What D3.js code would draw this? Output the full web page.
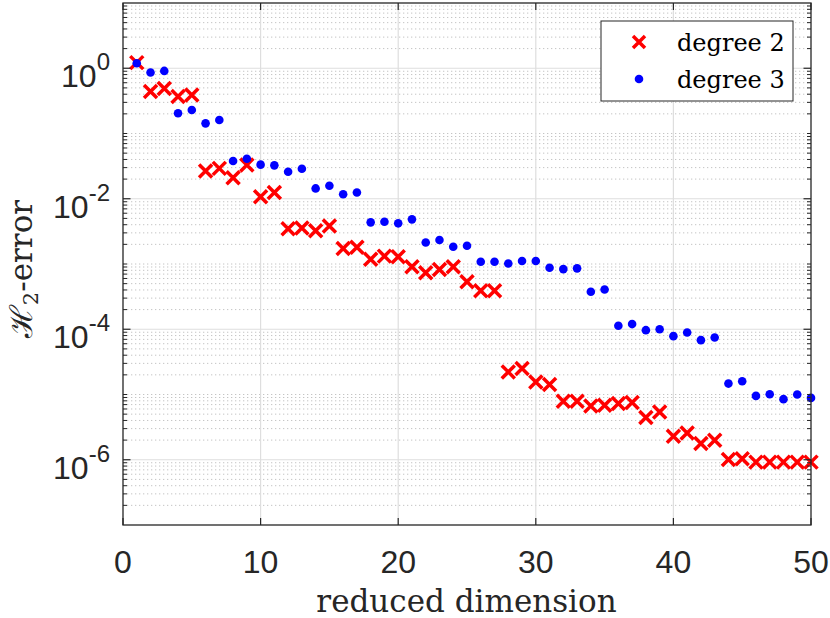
<!DOCTYPE html>
<html>
<head>
<meta charset="utf-8">
<script src="https://cdn.jsdelivr.net/npm/d3@7"></script>
<style>
  html, body { margin: 0; padding: 0; background: #ffffff; }
  svg { display: block; }
  .tick-font { font-family: "Liberation Sans", Arimo, Arial, Helvetica, sans-serif; }
  .serif-font { font-family: "DejaVu Serif", "Liberation Serif", serif; }
</style>
</head>
<body>
<div id="chart"></div>
<script>
// ---- data ----
const dims = [1,2,3,4,5,6,7,8,9,10,11,12,13,14,15,16,17,18,19,20,21,22,23,24,25,
              26,27,28,29,30,31,32,33,34,35,36,37,38,39,40,41,42,43,44,45,46,47,48,49,50];
const degree2 = [1.22, 0.44, 0.49, 0.37, 0.39, 0.0266, 0.0292, 0.021, 0.0329, 0.0107,
                 0.0125, 0.00347, 0.00355, 0.00324, 0.00381, 0.00173, 0.0018, 0.00118, 0.00132, 0.00129,
                 0.000906, 0.000733, 0.000826, 0.000906, 0.000533, 0.000388, 0.000388, 2.22e-5, 2.5e-5, 1.56e-5,
                 1.42e-5, 7.89e-6, 7.89e-6, 6.68e-6, 6.85e-6, 7.28e-6, 7.54e-6, 4.44e-6, 5.41e-6, 2.29e-6,
                 2.58e-6, 1.77e-6, 1.99e-6, 1.01e-6, 1.04e-6, 0.92e-6, 0.92e-6, 0.92e-6, 0.92e-6, 0.92e-6];
const degree3 = [1.19, 0.86, 0.91, 0.204, 0.229, 0.143, 0.161, 0.0379, 0.0411, 0.0333,
                 0.0325, 0.0259, 0.0288, 0.0144, 0.0158, 0.0117, 0.0125, 0.00435, 0.00444, 0.0042,
                 0.00483, 0.00214, 0.00233, 0.00184, 0.0019, 0.00108, 0.00108, 0.00102, 0.00111, 0.00111,
                 0.000875, 0.000835, 0.000857, 0.000375, 0.000407, 0.000113, 0.00012, 9.68e-5, 1.0e-4, 7.84e-5,
                 8.93e-5, 6.81e-5, 7.48e-5, 1.47e-5, 1.6e-5, 9.52e-6, 1.01e-5, 8.48e-6, 1.0e-5, 8.87e-6];
const xTicks = [0, 10, 20, 30, 40, 50];
const yTickExponents = [0, -2, -4, -6];
const seriesNames = ["degree 2", "degree 3"];
const xLabel = "reduced dimension";

// ---- layout ----
const W = 830, H = 618;
const L = 123, R = 811, T = 3, B = 525;
const axisColor = "#262626";

const svg = d3.select("#chart").append("svg").attr("width", W).attr("height", H);
svg.append("rect").attr("width", W).attr("height", H).attr("fill", "#fff");

const x = d3.scaleLinear().domain([0, 50]).range([L, R]);
const y = d3.scaleLog().domain([1e-7, 1e1]).range([B, T]);

const majorY = yTickExponents.map(e => Math.pow(10, e));
const allMinor = [];
for (let e = -7; e <= 0; e++) {
  for (let m = 1; m <= 9; m++) {
    const v = m * Math.pow(10, e);
    if (m === 1 && yTickExponents.includes(e)) continue;
    if (m === 1 && e === -7) continue;
    allMinor.push(v);
  }
}

// ---- grid ----
const grid = svg.append("g");
grid.selectAll("line.minor").data(allMinor).join("line")
  .attr("x1", L).attr("x2", R)
  .attr("y1", d => y(d)).attr("y2", d => y(d))
  .attr("stroke", "#c4c4c4").attr("stroke-width", 1)
  .attr("stroke-dasharray", "1.3,2.7");
grid.selectAll("line.majy").data(majorY).join("line")
  .attr("x1", L).attr("x2", R)
  .attr("y1", d => y(d)).attr("y2", d => y(d))
  .attr("stroke", "#dedede").attr("stroke-width", 1.2);
grid.selectAll("line.majx").data(xTicks.slice(1, -1)).join("line")
  .attr("x1", d => x(d)).attr("x2", d => x(d))
  .attr("y1", T).attr("y2", B)
  .attr("stroke", "#dedede").attr("stroke-width", 1.2);

// ---- data marks ----
const marks = svg.append("g");
marks.selectAll("path.d2").data(dims).join("path")
  .attr("transform", (d, i) => `translate(${x(d)},${y(degree2[i])})`)
  .attr("d", "M-6.5,-6.5L6.5,6.5M-6.5,6.5L6.5,-6.5")
  .attr("stroke", "#ff0000").attr("stroke-width", 3.5).attr("fill", "none");
marks.selectAll("circle.d3").data(dims).join("circle")
  .attr("cx", d => x(d)).attr("cy", (d, i) => y(degree3[i]))
  .attr("r", 4.3).attr("fill", "#0000ff");

// ---- axes frame and ticks ----
const ax = svg.append("g").attr("stroke", axisColor);
ax.append("rect").attr("x", L).attr("y", T).attr("width", R - L).attr("height", B - T)
  .attr("fill", "none").attr("stroke-width", 1.3);
ax.selectAll("line.xb").data(xTicks).join("line")
  .attr("x1", d => x(d)).attr("x2", d => x(d)).attr("y1", B).attr("y2", B - 7).attr("stroke-width", 1.2);
ax.selectAll("line.xt").data(xTicks).join("line")
  .attr("x1", d => x(d)).attr("x2", d => x(d)).attr("y1", T).attr("y2", T + 7).attr("stroke-width", 1.2);
[[L, 1], [R, -1]].forEach(([x0, dir]) => {
  ax.append("g").selectAll("line").data(majorY).join("line")
    .attr("x1", x0).attr("x2", x0 + dir * 7.5).attr("y1", d => y(d)).attr("y2", d => y(d)).attr("stroke-width", 1.2);
  ax.append("g").selectAll("line").data(allMinor).join("line")
    .attr("x1", x0).attr("x2", x0 + dir * 4).attr("y1", d => y(d)).attr("y2", d => y(d)).attr("stroke-width", 1);
});

// tick labels
svg.append("g").selectAll("text").data(xTicks).join("text")
  .attr("class", "tick-font")
  .attr("x", d => x(d)).attr("y", 573)
  .attr("text-anchor", "middle")
  .attr("font-size", 32).attr("fill", axisColor)
  .text(d => d);

const yl = svg.append("g").selectAll("text").data(yTickExponents).join("text")
  .attr("class", "tick-font")
  .attr("x", 110).attr("y", d => y(Math.pow(10, d)) + 19)
  .attr("text-anchor", "end")
  .attr("fill", axisColor);
yl.append("tspan").attr("font-size", 32).text("10");
yl.append("tspan").attr("font-size", 24).attr("dy", -17).text(d => d === 0 ? "0" : "-" + Math.abs(d));

// axis labels
svg.append("text").attr("class", "serif-font").attr("x", 466.5).attr("y", 612)
  .attr("text-anchor", "middle").attr("font-size", 31)
  .attr("fill", axisColor).text(xLabel);

const ylab = svg.append("text").attr("class", "serif-font")
  .attr("transform", "translate(32,269) rotate(-90)")
  .attr("text-anchor", "middle").attr("font-size", 31)
  .attr("fill", axisColor);
ylab.append("tspan").text("\u210B");
ylab.append("tspan").attr("font-size", 21).attr("dy", 6).text("2");
ylab.append("tspan").attr("dy", -6).text("-error");

// ---- legend ----
const lg = svg.append("g");
lg.append("rect").attr("x", 601).attr("y", 21).attr("width", 192).attr("height", 80)
  .attr("fill", "#fff").attr("stroke", axisColor).attr("stroke-width", 1);
const rows = [42, 79];
lg.append("path").attr("transform", `translate(639,${rows[0]})`)
  .attr("d", "M-6,-6L6,6M-6,6L6,-6")
  .attr("stroke", "#ff0000").attr("stroke-width", 3.5).attr("fill", "none");
lg.append("circle").attr("cx", 639).attr("cy", rows[1]).attr("r", 4.3).attr("fill", "#0000ff");
lg.selectAll("text").data(seriesNames).join("text")
  .attr("class", "serif-font")
  .attr("x", 677).attr("y", (d, i) => rows[i] + 8.5)
  .attr("font-size", 24).attr("fill", "#000")
  .text(d => d);
</script>
</body>
</html>
